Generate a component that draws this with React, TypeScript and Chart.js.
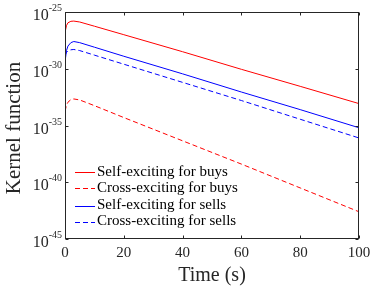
import { useEffect, useRef } from "react";
import { Chart, registerables } from "chart.js";

Chart.register(...registerables);

// Time (s)
const times = [0, 0.5, 1, 2, 3, 5, 10, 20, 40, 60, 80, 100];
// log10 of kernel values
const selfBuysExp = [-26.8, -26.2, -25.95, -25.82, -25.8, -25.88, -26.25, -27.0, -28.5, -30.05, -31.55, -33.07];
const crossBuysExp = [-33.75, -33.2, -32.95, -32.72, -32.66, -32.75, -33.25, -34.3, -36.35, -38.4, -40.5, -42.6];
const selfSellsExp = [-29.4, -28.4, -28.0, -27.7, -27.6, -27.7, -28.1, -28.9, -30.45, -32.05, -33.6, -35.2];
const crossSellsExp = [-28.8, -28.55, -28.42, -28.33, -28.3, -28.4, -28.8, -29.6, -31.2, -32.8, -34.45, -36.1];

const seriesLabels = [
  "Self-exciting for buys",
  "Cross-exciting for buys",
  "Self-exciting for sells",
  "Cross-exciting for sells",
];
const seriesColors = ["#ff0000", "#ff0000", "#0000ff", "#0000ff"];
const seriesDashes: number[][] = [[], [5, 3], [], [5, 3]];
const xTicks = [0, 20, 40, 60, 80, 100];
const yTickExps = [-25, -30, -35, -40, -45];
const xTitle = "Time (s)";
const yTitle = "Kernel function";

const SERIF = "'Liberation Serif', 'DejaVu Serif', serif";

export default function App() {
  const ref = useRef<HTMLCanvasElement>(null);

  useEffect(() => {
    document.body.style.margin = "0";
    const canvas = ref.current;
    if (!canvas) return;
    const mk = (vals: number[]) => times.map((t, i) => ({ x: t, y: Math.pow(10, vals[i]) }));
    const seriesExps = [selfBuysExp, crossBuysExp, selfSellsExp, crossSellsExp];

    const axesPlugin = {
      id: "matlabAxes",
      afterDatasetsDraw(chart: any) {
        const { ctx, chartArea: a, scales } = chart;
        const xs = scales.x;
        const ys = scales.y;
        ctx.save();
        ctx.strokeStyle = "#262626";
        ctx.fillStyle = "#262626";
        ctx.lineWidth = 1;
        ctx.setLineDash([]);
        const L = Math.round(a.left) + 0.5;
        const R = Math.round(a.right) - 0.5;
        const T = Math.round(a.top) + 0.5;
        const B = Math.round(a.bottom) - 0.5;
        ctx.strokeRect(L, T, R - L, B - T);
        const tl = 3;
        ctx.beginPath();
        xTicks.forEach((v) => {
          const px = Math.round(xs.getPixelForValue(v)) + 0.5;
          ctx.moveTo(px, B);
          ctx.lineTo(px, B - tl);
          ctx.moveTo(px, T);
          ctx.lineTo(px, T + tl);
        });
        yTickExps.forEach((e) => {
          const py = Math.round(ys.getPixelForValue(Math.pow(10, e))) + 0.5;
          ctx.moveTo(L, py);
          ctx.lineTo(L + tl, py);
          ctx.moveTo(R, py);
          ctx.lineTo(R - tl, py);
        });
        ctx.stroke();

        // x tick labels
        ctx.font = `15px ${SERIF}`;
        ctx.textAlign = "center";
        ctx.textBaseline = "middle";
        xTicks.forEach((v) => {
          ctx.fillText(String(v), xs.getPixelForValue(v), 253);
        });
        // y tick labels 10^e
        yTickExps.forEach((e) => {
          const py = ys.getPixelForValue(Math.pow(10, e));
          ctx.font = `10px ${SERIF}`;
          ctx.textAlign = "right";
          ctx.textBaseline = "alphabetic";
          const expStr = String(e);
          const ew = ctx.measureText(expStr).width;
          const expRight = 62;
          ctx.fillText(expStr, expRight, py - 1);
          ctx.font = `16px ${SERIF}`;
          ctx.fillText("10", expRight - ew, py + 8);
        });
        // titles
        ctx.font = `20px ${SERIF}`;
        ctx.textAlign = "center";
        ctx.textBaseline = "middle";
        ctx.fillText(xTitle, (a.left + a.right) / 2, 276);
        ctx.save();
        ctx.translate(14, 128);
        ctx.rotate(-Math.PI / 2);
        ctx.font = `21px ${SERIF}`;
        ctx.fillText(yTitle, 0, 0);
        ctx.restore();
        ctx.restore();

        // legend
        seriesLabels.forEach((label, i) => {
          const yy = Math.round(172 + i * 16.4);
          const ly = 2 * Math.round(yy / 2);
          ctx.save();
          ctx.strokeStyle = seriesColors[i];
          ctx.lineWidth = 1;
          ctx.setLineDash(seriesDashes[i]);
          ctx.beginPath();
          ctx.moveTo(75, ly + 0.5);
          ctx.lineTo(95, ly + 0.5);
          ctx.stroke();
          ctx.restore();
          ctx.save();
          ctx.font = `15px ${SERIF}`;
          ctx.textAlign = "left";
          ctx.textBaseline = "middle";
          ctx.fillStyle = "#000000";
          ctx.fillText(label, 97, yy);
          ctx.restore();
        });
      },
    };

    const chart = new Chart(canvas, {
      type: "line",
      data: {
        datasets: seriesLabels.map((label, i) => ({
          label,
          data: mk(seriesExps[i]),
          borderColor: seriesColors[i],
          borderWidth: 1,
          pointRadius: 0,
          borderDash: seriesDashes[i],
        })),
      },
      options: {
        responsive: false,
        animation: false,
        events: [],
        layout: { padding: { top: 12, right: 15, left: 0, bottom: 0 } },
        plugins: { legend: { display: false }, tooltip: { enabled: false }, title: { display: false } },
        scales: {
          x: {
            type: "linear",
            min: 0,
            max: 100,
            ticks: { display: false },
            grid: { display: false },
            border: { display: false },
            afterFit: (s: any) => { s.height = 48; },
          },
          y: {
            type: "logarithmic",
            min: 1e-45,
            max: 1e-25,
            ticks: { display: false },
            grid: { display: false },
            border: { display: false },
            afterFit: (s: any) => { s.width = 65; },
          },
        },
      },
      plugins: [axesPlugin],
    });
    return () => chart.destroy();
  }, []);

  return (
    <div style={{ position: "fixed", left: 0, top: 0, width: 374, height: 287, background: "#fff" }}>
      <canvas ref={ref} width={374} height={287} />
    </div>
  );
}
